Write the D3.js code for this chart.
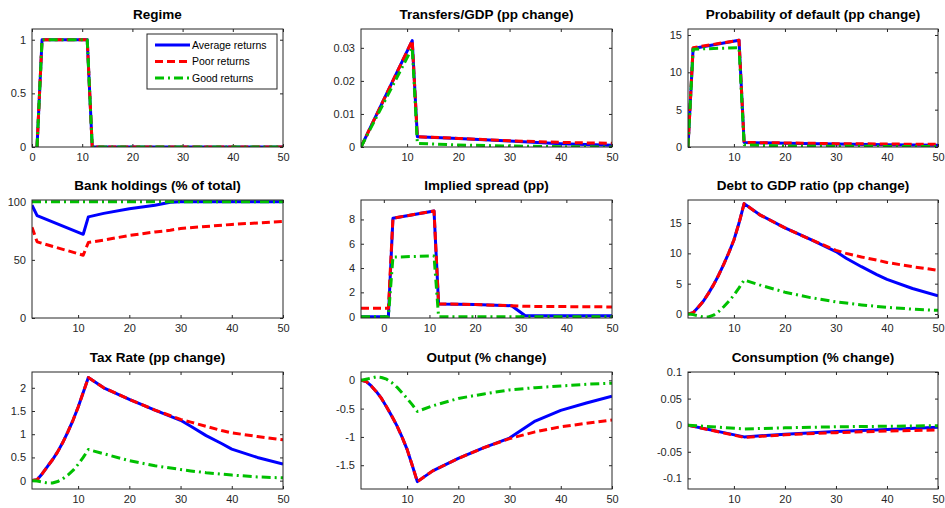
<!DOCTYPE html>
<html><head><meta charset="utf-8">
<script src="https://cdn.jsdelivr.net/npm/d3@7"></script>
<style>html,body{margin:0;padding:0;background:#fff;}svg{display:block;font-family:Arial,"Liberation Sans",sans-serif;}</style>
</head><body><svg id="c" width="945" height="508"></svg>
<script>
// ---------- DATA ----------
const seriesNames = ["Average returns", "Poor returns", "Good returns"];
const seriesColors = ["#0000ff", "#ff0000", "#00c000"];

const titles = ["Regime", "Transfers/GDP (pp change)", "Probability of default (pp change)",
  "Bank holdings (% of total)", "Implied spread (pp)", "Debt to GDP ratio (pp change)",
  "Tax Rate (pp change)", "Output (% change)", "Consumption (% change)"];

// Regime
const regimeT = [1, 2, 11, 12, 50];
const regimeAvg = [0, 1, 1, 0, 0];
const regimePoor = [0, 1, 1, 0, 0];
const regimeGood = [0, 1, 1, 0, 0];
const regimeYTicks = [0, 0.5, 1];
const regimeYLabels = ["0", "0.5", "1"];

// Transfers/GDP
const transT = [1, 11, 12, 20, 30, 40, 50];
const transAvg = [0, 0.0322, 0.0031, 0.0026, 0.0018, 0.0010, 0.0005];
const transPoor = [0, 0.0322, 0.0031, 0.0026, 0.0019, 0.0014, 0.0011];
const transGood = [0, 0.0300, 0.0011, 0.0006, 0.0003, 0.0001, 0.0000];
const transYTicks = [0, 0.01, 0.02, 0.03];
const transYLabels = ["0", "0.01", "0.02", "0.03"];

// Probability of default
const probT = [1, 2, 11, 12, 20, 30, 40, 50];
const probAvg = [0, 13.2, 14.3, 0.6, 0.5, 0.4, 0.3, 0.25];
const probPoor = [0, 13.3, 14.3, 0.6, 0.55, 0.45, 0.4, 0.35];
const probGood = [0, 13.1, 13.3, 0.3, 0.12, 0.1, 0.08, 0.05];
const probYTicks = [0, 5, 10, 15];
const probYLabels = ["0", "5", "10", "15"];

// Bank holdings
const bankT = [1, 2, 11, 12, 15, 20, 25, 28, 30, 40, 50];
const bankAvg = [97, 88, 72, 87, 90, 94, 97, 99.5, 100, 100, 100];
const bankPoor = [78, 65.5, 54, 65, 67, 71, 74, 75.5, 77, 80.5, 83];
const bankGood = [100, 100, 100, 100, 100, 100, 100, 100, 100, 100, 100];
const bankYTicks = [0, 50, 100];
const bankYLabels = ["0", "50", "100"];

// Implied spread
const spreadT = [-5, 1, 2, 11, 12, 20, 28, 31, 50];
const spreadAvg = [0, 0, 8.1, 8.7, 1.05, 1.0, 0.9, 0.08, 0.08];
const spreadPoor = [0.7, 0.7, 8.1, 8.7, 1.05, 1.0, 0.9, 0.85, 0.8];
const spreadGood = [0, 0, 4.9, 5.0, 0, 0, 0, 0, 0];
const spreadYTicks = [0, 2, 4, 6, 8];
const spreadYLabels = ["0", "2", "4", "6", "8"];

// Debt to GDP
const debtT = [1, 2, 3, 4, 5, 6, 7, 8, 9, 10, 11, 12, 15, 20, 25, 30, 32, 35, 38, 40, 45, 50];
const debtAvg = [0, 0.2, 1.1, 2.1, 3.4, 4.8, 6.4, 8.2, 10.1, 12.2, 15.0, 18.2, 16.4, 14.2, 12.3, 10.3, 9.2, 7.8, 6.5, 5.7, 4.2, 3.0];
const debtPoor = [0, 0.2, 1.1, 2.1, 3.4, 4.8, 6.4, 8.2, 10.1, 12.2, 15.0, 18.2, 16.4, 14.2, 12.3, 10.5, 10.0, 9.4, 8.9, 8.5, 7.8, 7.2];
const debtGood = [0, -0.1, -0.3, -0.5, -0.5, -0.2, 0.4, 1.2, 2.1, 3.1, 4.3, 5.6, 4.8, 3.6, 2.7, 2.0, 1.8, 1.5, 1.25, 1.1, 0.8, 0.6];
const debtYTicks = [0, 5, 10, 15];
const debtYLabels = ["0", "5", "10", "15"];

// Tax rate
const taxT = [1, 2, 3, 4, 5, 6, 7, 8, 9, 10, 11, 12, 15, 20, 25, 30, 32, 35, 38, 40, 45, 50];
const taxAvg = [0, 0.02, 0.15, 0.3, 0.45, 0.62, 0.82, 1.05, 1.3, 1.58, 1.9, 2.22, 2.0, 1.75, 1.52, 1.3, 1.17, 0.97, 0.8, 0.68, 0.5, 0.36];
const taxPoor = [0, 0.02, 0.15, 0.3, 0.45, 0.62, 0.82, 1.05, 1.3, 1.58, 1.9, 2.22, 2.0, 1.75, 1.52, 1.32, 1.26, 1.17, 1.08, 1.03, 0.95, 0.88];
const taxGood = [0, -0.01, -0.03, -0.05, -0.05, -0.02, 0.04, 0.12, 0.22, 0.35, 0.5, 0.67, 0.58, 0.43, 0.32, 0.24, 0.21, 0.17, 0.14, 0.12, 0.08, 0.06];
const taxYTicks = [0, 0.5, 1, 1.5, 2];
const taxYLabels = ["0", "0.5", "1", "1.5", "2"];

// Output
const outT = [1, 2, 3, 4, 5, 6, 7, 8, 9, 10, 11, 12, 15, 20, 25, 30, 35, 40, 45, 50];
const outAvg = [0, -0.02, -0.1, -0.2, -0.32, -0.47, -0.63, -0.8, -1.0, -1.22, -1.5, -1.79, -1.6, -1.38, -1.19, -1.02, -0.72, -0.53, -0.4, -0.28];
const outPoor = [0, -0.02, -0.1, -0.2, -0.32, -0.47, -0.63, -0.8, -1.0, -1.22, -1.5, -1.79, -1.6, -1.38, -1.19, -1.03, -0.91, -0.82, -0.76, -0.7];
const outGood = [0, 0.02, 0.04, 0.06, 0.05, 0.02, -0.04, -0.12, -0.22, -0.32, -0.43, -0.55, -0.45, -0.32, -0.24, -0.17, -0.13, -0.1, -0.07, -0.05];
const outYTicks = [0, -0.5, -1, -1.5];
const outYLabels = ["0", "-0.5", "-1", "-1.5"];

// Consumption
const consT = [1, 12, 20, 30, 40, 50];
const consAvg = [0, -0.022, -0.017, -0.012, -0.008, -0.004];
const consPoor = [0, -0.023, -0.018, -0.014, -0.011, -0.009];
const consGood = [0, -0.007, -0.005, -0.003, -0.002, -0.001];
const consYTicks = [-0.1, -0.05, 0, 0.05, 0.1];
const consYLabels = ["-0.1", "-0.05", "0", "0.05", "0.1"];

const xTicksStd = [10, 20, 30, 40, 50];
const xTicksZero = [0, 10, 20, 30, 40, 50];

// ---------- PANELS ----------
const panels = [
  {t: regimeT, s: [regimeAvg, regimePoor, regimeGood], xd: [0, 50], yd: [0, 1.1], xt: xTicksZero, yt: regimeYTicks, yl: regimeYLabels, legend: true},
  {t: transT, s: [transAvg, transPoor, transGood], xd: [1, 50], yd: [0, 0.0357], xt: xTicksStd, yt: transYTicks, yl: transYLabels},
  {t: probT, s: [probAvg, probPoor, probGood], xd: [1, 50], yd: [0, 15.8], xt: xTicksStd, yt: probYTicks, yl: probYLabels},
  {t: bankT, s: [bankAvg, bankPoor, bankGood], xd: [1, 50], yd: [0, 101.5], xt: xTicksStd, yt: bankYTicks, yl: bankYLabels},
  {t: spreadT, s: [spreadAvg, spreadPoor, spreadGood], xd: [-5, 50], yd: [-0.11, 9.6], xt: xTicksZero, yt: spreadYTicks, yl: spreadYLabels},
  {t: debtT, s: [debtAvg, debtPoor, debtGood], xd: [1, 50], yd: [-0.66, 18.8], xt: xTicksStd, yt: debtYTicks, yl: debtYLabels},
  {t: taxT, s: [taxAvg, taxPoor, taxGood], xd: [1, 50], yd: [-0.18, 2.34], xt: xTicksStd, yt: taxYTicks, yl: taxYLabels},
  {t: outT, s: [outAvg, outPoor, outGood], xd: [1, 50], yd: [-1.92, 0.147], xt: xTicksStd, yt: outYTicks, yl: outYLabels},
  {t: consT, s: [consAvg, consPoor, consGood], xd: [1, 50], yd: [-0.12, 0.1], xt: xTicksStd, yt: consYTicks, yl: consYLabels}
];

const colX = [32, 361, 688];
const colW = [251, 251, 250];
const rowY = [29, 200, 372];
const H = 118;
const dashes = [null, "8,4", "9,4,2,4"];
const tickLen = 3;
const svg = d3.select("#c");
svg.append("rect").attr("width", 945).attr("height", 508).attr("fill", "#fff");

panels.forEach((p, i) => {
  const x0 = colX[i % 3], y0 = rowY[Math.floor(i / 3)];
  const W = colW[i % 3];
  const h = (Math.floor(i / 3) === 2) ? H - 1 : H;
  const g = svg.append("g").attr("transform", `translate(${x0},${y0})`);
  const x = d3.scaleLinear().domain(p.xd).range([0, W]);
  const y = d3.scaleLinear().domain(p.yd).range([h, 0]);

  g.append("text").attr("x", W / 2).attr("y", -10).attr("text-anchor", "middle")
    .attr("font-size", "13.5px").attr("font-weight", "bold").attr("fill", "#000").text(titles[i]);

  g.append("rect").attr("width", W).attr("height", h).attr("fill", "#fff");

  const fmt = (arr, labels) => (d => labels[arr.indexOf(d)]);
  const bottom = d3.axisBottom(x).tickValues(p.xt).tickSize(-tickLen).tickPadding(6).tickFormat(d3.format("d"));
  const top = d3.axisTop(x).tickValues(p.xt).tickSize(-tickLen).tickFormat("");
  const left = d3.axisLeft(y).tickValues(p.yt).tickSize(-tickLen).tickPadding(6).tickFormat(fmt(p.yt, p.yl));
  const right = d3.axisRight(y).tickValues(p.yt).tickSize(-tickLen).tickFormat("");
  const styleAx = sel => {
    sel.select(".domain").remove();
    sel.selectAll("line").attr("stroke", "#262626");
    sel.selectAll("text").attr("font-size", "11px").attr("fill", "#262626").attr("font-family", "Arial, 'Liberation Sans', sans-serif");
  };
  g.append("g").attr("transform", `translate(0,${h})`).call(bottom).call(styleAx);
  g.append("g").call(top).call(styleAx);
  g.append("g").call(left).call(styleAx);
  g.append("g").attr("transform", `translate(${W},0)`).call(right).call(styleAx);

  const cid = "clip" + i;
  g.append("clipPath").attr("id", cid).append("rect").attr("width", W).attr("height", h);
  const lg = g.append("g").attr("clip-path", `url(#${cid})`);
  const line = d3.line().x((d, k) => x(p.t[k])).y(d => y(d));
  p.s.forEach((vals, si) => {
    const path = lg.append("path").attr("d", line(vals)).attr("fill", "none")
      .attr("stroke", seriesColors[si]).attr("stroke-width", 3).attr("stroke-linejoin", "round");
    if (dashes[si]) path.attr("stroke-dasharray", dashes[si]);
  });

  g.append("rect").attr("width", W).attr("height", h).attr("fill", "none").attr("stroke", "#262626").attr("stroke-width", 1);

  if (p.legend) {
    const L = g.append("g").attr("transform", `translate(${147 - x0},${34 - y0})`);
    L.append("rect").attr("width", 130).attr("height", 55).attr("fill", "#fff").attr("stroke", "#262626");
    seriesNames.forEach((nm, si) => {
      const yy = 11 + si * 16.5;
      const ln = L.append("line").attr("x1", 8).attr("x2", 43).attr("y1", yy).attr("y2", yy)
        .attr("stroke", seriesColors[si]).attr("stroke-width", 3);
      if (dashes[si]) ln.attr("stroke-dasharray", dashes[si]);
      L.append("text").attr("x", 45).attr("y", yy).attr("dy", "0.35em").attr("font-size", "10.5px")
        .attr("fill", "#000").text(nm);
    });
  }
});
</script></body></html>
